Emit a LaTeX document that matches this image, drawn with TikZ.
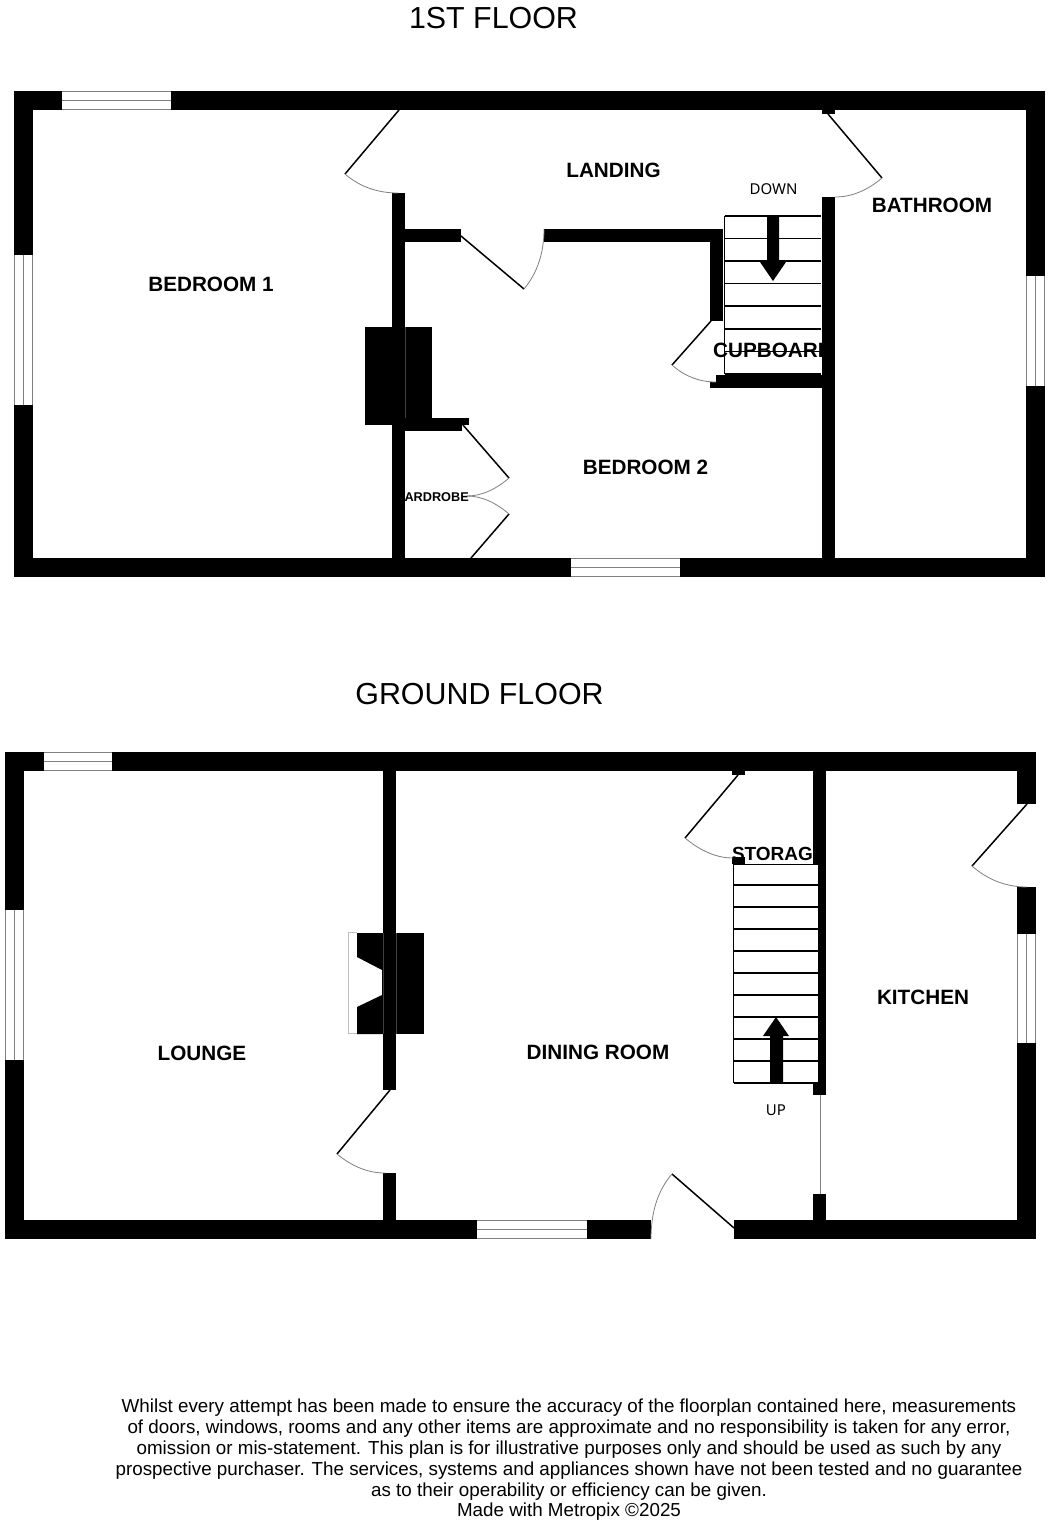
\documentclass[tikz,border=0pt]{standalone}
\usepackage{fontspec}
\usetikzlibrary{calc}
\setmainfont{Liberation Sans}
\newfontfamily\stairfont{Noto Sans}
\tikzset{
  wall/.style={fill=black,draw=none},
  winmid/.style={draw=black!50,line width=1.3pt},
  leaf/.style={draw=black,line width=1.5pt},
  swing/.style={draw=black!50,line width=0.8pt},
  tread/.style={draw=black,line width=1.5pt},
  seam/.style={draw=black!75,line width=0.3pt},
  room/.style={inner sep=0pt,font=\fontsize{20.7}{21}\selectfont\bfseries},
  smallroom/.style={inner sep=0pt,font=\fontsize{12.7}{13}\selectfont\bfseries},
  storeroom/.style={inner sep=0pt,font=\fontsize{19}{20}\selectfont\bfseries},
  floortitle/.style={inner sep=0pt,font=\fontsize{30.4}{31}\selectfont},
  stairlabel/.style={inner sep=0pt,font=\fontsize{15}{15}\stairfont\selectfont},
  note/.style={inner sep=0pt,align=center,font=\fontsize{18.8}{20.8}\selectfont}
}
\newcommand{\hwin}[3]{\fill[white] (#1,#2) rectangle (#3,#2+19);
  \draw[winmid] (#1,#2+0.6) -- (#3,#2+0.6) (#1,#2+9.5) -- (#3,#2+9.5) (#1,#2+18.4) -- (#3,#2+18.4);}
\newcommand{\vwin}[3]{\fill[white] (#1,#2) rectangle (#1+19,#3);
  \draw[winmid] (#1+0.6,#2) -- (#1+0.6,#3) (#1+9.5,#2) -- (#1+9.5,#3) (#1+18.4,#2) -- (#1+18.4,#3);}
% door swing: quadratic curve from tip #1 via corner #2 to end #3
\newcommand{\swingarc}[3]{\draw[swing] (#1) .. controls ($(#1)!0.667!(#2)$) and ($(#3)!0.667!(#2)$) .. (#3);}
\begin{document}
\begin{tikzpicture}[x=1pt,y=-1pt]
\useasboundingbox (0,0) rectangle (1050,1523);
\fill[white] (0,0) rectangle (1050,1523);

% titles
\node[floortitle] (t1) at (493.5,18) {1ST FLOOR};
\node[floortitle] (t2) at (479.5,694) {GROUND FLOOR};

% room labels (walls are drawn over the ones they overlap)
\node[room] (bed1) at (211,284) {BEDROOM 1};
\node[room] (landing) at (613.5,170) {LANDING};
\node[room] (bath) at (932,205.5) {BATHROOM};
\node[room] (bed2) at (645.5,467) {BEDROOM 2};
\node[room] (cupboard) at (773,350) {CUPBOARD};
\node[smallroom] (wardrobe) at (431,497.5) {WARDROBE};
\node[stairlabel] (down) at (773.5,189) {DOWN};
\node[room] (lounge) at (202,1053) {LOUNGE};
\node[room] (dining) at (598,1052) {DINING ROOM};
\node[room] (kitchen) at (923,997) {KITCHEN};
\node[storeroom] (storage) at (778.8,854) {STORAGE};
\node[stairlabel] (up) at (776,1110) {UP};

% ---------- 1st floor walls
\fill[wall] (14,91) rectangle (1045,110);
\fill[wall] (14,558) rectangle (1045,577);
\fill[wall] (14,91) rectangle (33,577);
\fill[wall] (1026,91) rectangle (1045,577);
\fill[wall] (392,193) rectangle (405,558);
\fill[wall] (405,229) rectangle (461,242);
\fill[wall] (544,229) rectangle (723,242);
\fill[wall] (710,229) rectangle (723,321);
\fill[wall] (822,197) rectangle (835,558);
\fill[wall] (822,110) rectangle (835,114);
\fill[wall] (716,375) rectangle (822,382);
\fill[wall] (710,382) rectangle (822,388);
\fill[wall] (365,327) rectangle (392.5,425);
\fill[wall] (404.5,327) rectangle (432,418);
\fill[wall] (405,418) rectangle (469,425);
\fill[wall] (405,425) rectangle (462,431);
\draw[seam] (405,327) -- (405,418);

% 1st floor windows
\hwin{62}{91}{171}
\hwin{570.5}{558}{680}
\vwin{14}{255}{405}
\vwin{1026}{276}{386}

% 1st floor stairs
\foreach \yy in {216,238.5,261,283.7,306,329,351.7,374}
  \draw[tread] (724.5,\yy) -- (821,\yy);
\draw[tread] (724.5,216) -- (724.5,374);
\fill[wall] (767,216) -- (779,216) -- (779,262) -- (786,262) -- (773,281) -- (760,262) -- (767,262) -- cycle;

% 1st floor doors
\draw[leaf] (399,110) -- (345,174);
\swingarc{345,174}{367,193}{398,193}
\draw[leaf] (461,236) -- (524,289);
\swingarc{524,289}{544,265}{544,229}
\draw[leaf] (828,114) -- (882,178);
\swingarc{882,178}{859.5,197}{835,197}
\draw[leaf] (711,321) -- (672,365);
\swingarc{672,365}{691,382}{716,382}
\draw[leaf] (463,425) -- (509,478);
\swingarc{509,478}{488,496}{467,496}
\draw[leaf] (471,558) -- (509,514);
\swingarc{509,514}{488,496}{467,496}

% ---------- ground floor walls
\fill[wall] (5,752) rectangle (1036,771);
\fill[wall] (5,1220) rectangle (651,1239);
\fill[wall] (734,1220) rectangle (1036,1239);
\fill[wall] (5,752) rectangle (24,1239);
\fill[wall] (1017,752) rectangle (1036,804);
\fill[wall] (1017,887) rectangle (1036,1239);
\fill[wall] (383,771) rectangle (396,1090);
\fill[wall] (383,1173) rectangle (396,1220);
\fill[wall] (813,771) rectangle (826,864);
\fill[wall] (817.5,864) rectangle (826,1083);
\fill[wall] (813,1083) rectangle (826,1095);
\fill[wall] (813,1194) rectangle (826,1220);
\fill[wall] (732,771) rectangle (745,775);
\fill[wall] (732,857) rectangle (745,864);
\draw[swing] (820,1095) -- (820,1194);

% fireplace
\draw[draw=black!25,line width=0.8pt] (357,932.5) -- (348,932.5) -- (348,1033) -- (357,1033);
\fill[wall] (357,933) -- (383,933) -- (383,1034) -- (357,1034) -- (357,1007) -- (382,995) -- (382,970) -- (357,957) -- cycle;
\fill[wall] (396,933) rectangle (424,1034);
\draw[seam] (383.2,933) -- (383.2,1034) (395.8,933) -- (395.8,1034);

% ground floor windows
\hwin{44}{752}{112}
\hwin{477}{1220}{587}
\vwin{5}{910}{1060}
\vwin{1017}{934}{1043}

% ground floor stairs
\foreach \yy in {864.5,885,907,929,951,973,995,1017,1039,1061,1083}
  \draw[tread] (733.5,\yy) -- (817.5,\yy);
\draw[tread] (733.5,864) -- (733.5,1083);
\draw[tread] (733.5,858) -- (733.5,949);
\fill[wall] (770,1083) -- (770,1036) -- (763,1036) -- (776,1017) -- (789,1036) -- (783,1036) -- (783,1083) -- cycle;

% ground floor doors
\draw[leaf] (738,775) -- (685,838);
\swingarc{685,838}{709,858}{733,858}
\draw[leaf] (1027,804) -- (972,866);
\swingarc{972,866}{996,887}{1027,887}
\draw[leaf] (390,1090) -- (337,1154);
\swingarc{337,1154}{360,1173}{385,1173}
\draw[leaf] (734,1228) -- (672,1174);
\swingarc{672,1174}{651,1198}{651,1239}

% footer
\node[note] (footer) at (569,1460) {Whilst every attempt has been made to ensure the accuracy of the floorplan contained here, measurements\\
of doors, windows, rooms and any other items are approximate and no responsibility is taken for any error,\\
omission or mis-statement. This plan is for illustrative purposes only and should be used as such by any\\
prospective purchaser. The services, systems and appliances shown have not been tested and no guarantee\\
as to their operability or efficiency can be given.\\
Made with Metropix ©2025};
\end{tikzpicture}
\end{document}
